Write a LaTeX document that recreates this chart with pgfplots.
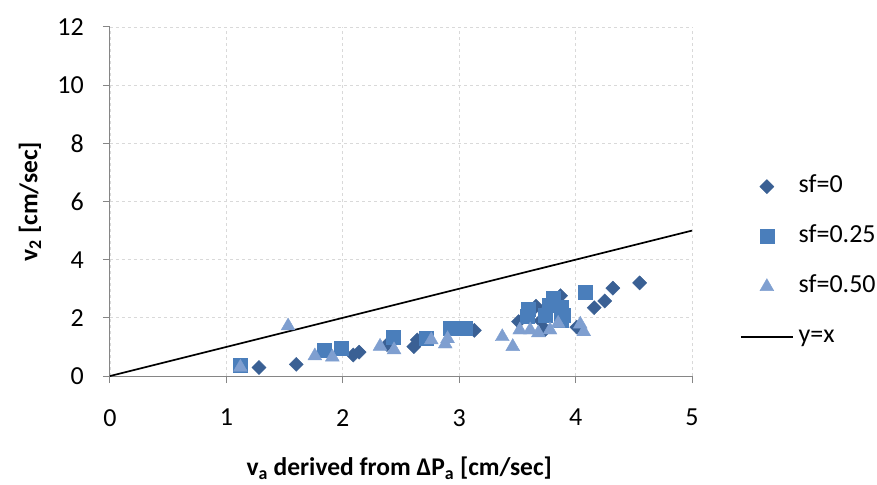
\documentclass[border=0pt]{standalone}
\usepackage{fontspec}
\setmainfont{Carlito}
\usepackage{pgfplots}
\pgfplotsset{compat=1.18}
\definecolor{cA}{HTML}{3A6094}
\definecolor{cB}{HTML}{4A7EBB}
\definecolor{cC}{HTML}{7F9FD0}
\definecolor{gridc}{HTML}{D9D9D9}
\definecolor{axc}{HTML}{868686}
\pgfplotsset{
  markleg/.style={legend image code/.code={\draw[only marks,mark repeat=2,mark phase=2,##1] plot coordinates {(0pt,0pt) (26pt,0pt) (52pt,0pt)};}},
  lineleg/.style={legend image code/.code={\draw[##1] (0pt,0pt) -- (52pt,0pt);}},
}
\begin{document}
\begin{tikzpicture}[x=1pt,y=1pt]
\useasboundingbox (-110,-108) rectangle (767,376);
\begin{axis}[
  at={(0,0)}, anchor=origin,
  scale only axis, width=582pt, height=349pt,
  xmin=0, xmax=5, ymin=0, ymax=12,
  xtick={0,1,2,3,4,5}, ytick={0,2,4,6,8,10,12},
  axis x line*=bottom, axis y line*=left,
  axis line style={draw=axc, line width=1pt, -},
  tick style={draw=axc, line width=1pt},
  tick align=outside, major tick length=7pt,
  grid=major, major grid style={draw=gridc, dash pattern=on 3pt off 3pt, line width=0.8pt},
  /pgf/number format/assume math mode=true,
  ticklabel style={font=\fontsize{26}{30}\selectfont, inner sep=0pt},
  yticklabel style={anchor=east, xshift=-19pt},
  xticklabel style={anchor=north, yshift=-26pt},
  xlabel={\textbf{v\textsubscript{a} derived from ΔP\textsubscript{a} [cm/sec]}},
  ylabel={\textbf{v\textsubscript{2} [cm/sec]}},
  label style={font=\fontsize{25.5}{30}\selectfont, inner sep=0pt},
  xlabel style={at={(axis description cs:0.497,-0.2865)}, anchor=base},
  ylabel style={at={(axis description cs:-0.1246,0.5)}, anchor=base, rotate=0},
  legend style={at={(axis description cs:1.0825,0.574)}, anchor=north west,
    draw=none, fill=none, inner sep=0pt, outer sep=0pt,
    font=\fontsize{26}{30}\selectfont, row sep=28pt,
    nodes={inner sep=0pt, text height=17pt, text depth=5pt},
    /tikz/every odd column/.append style={column sep=5pt}},
  legend cell align=left,
]
\addplot[only marks, mark=square*, mark size=5pt, color=cA, mark options={rotate=45, fill=cA, draw=cA}, markleg]
coordinates {
(1.28,0.29) (1.60,0.40) (2.09,0.72) (2.14,0.82) (2.38,1.08) (2.61,1.01)
(2.64,1.24) (3.13,1.57) (3.51,1.87) (3.66,2.40) (3.70,1.90) (3.74,1.60)
(3.87,2.76) (4.01,1.68) (4.16,2.35) (4.25,2.58) (4.32,3.02) (4.55,3.20)
};
\addlegendentry{sf=0}
\addplot[only marks, mark=square*, mark size=7pt, color=cB, mark options={fill=cB, draw=cB}, markleg]
coordinates {
(1.12,0.38) (1.84,0.90) (1.99,0.95) (2.43,1.32) (2.72,1.30) (2.92,1.64)
(3.05,1.64) (3.58,2.04) (3.59,2.30) (3.74,2.10) (3.77,2.45) (3.81,2.68)
(3.88,2.38) (3.89,2.10) (3.88,1.93) (4.08,2.88)
};
\addlegendentry{sf=0.25}
\addplot[only marks, mark=triangle*, mark size=8pt, color=cC, mark options={fill=cC, draw=cC}, markleg]
coordinates {
(1.12,0.30) (1.53,1.72) (1.76,0.69) (1.91,0.65) (2.32,1.02) (2.44,0.90)
(2.76,1.24) (2.88,1.10) (2.90,1.28) (3.37,1.35) (3.46,1.01) (3.52,1.58)
(3.61,1.58) (3.68,1.48) (3.78,1.58) (3.85,1.81) (4.04,1.78) (4.07,1.52)
};
\addlegendentry{sf=0.50}
\addplot[black, line width=1.7pt, no marks, lineleg]
coordinates {(0,0) (5,5)};
\addlegendentry{y=x}
\end{axis}
\end{tikzpicture}
\end{document}
